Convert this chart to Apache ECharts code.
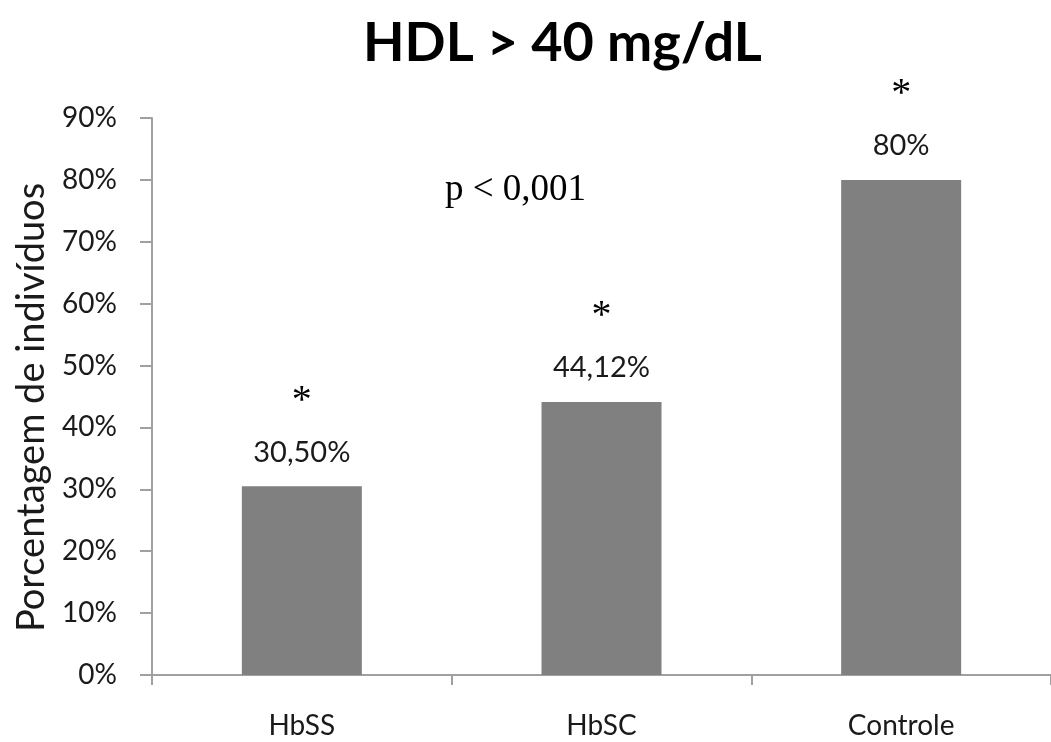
<!DOCTYPE html>
<html>
<head>
<meta charset="utf-8">
<script src="https://cdn.jsdelivr.net/npm/echarts@6/dist/echarts.min.js"></script>
<style>
  html, body { margin: 0; padding: 0; background: #fff; }
  #chart { width: 1051px; height: 742px; }
</style>
</head>
<body>
<div id="chart"></div>
<script>
const categories = ["HbSS", "HbSC", "Controle"];
const values = [30.5, 44.12, 80];
const valueLabels = ["30,50%", "44,12%", "80%"];
const yTicks = [0, 10, 20, 30, 40, 50, 60, 70, 80, 90];

const font = "Lato, 'Open Sans', sans-serif";

let chart = echarts.init(document.getElementById("chart"));

let option = {
  animation: false,
  title: {
    text: "HDL > 40 mg/dL",
    left: 358,
    top: 12,
    textStyle: {
      fontFamily: font,
      fontWeight: "bold",
      fontSize: 54,
      color: "#000"
    }
  },
  grid: {
    left: 152,
    right: -7,
    top: 118,
    bottom: 67
  },
  xAxis: {
    type: "category",
    data: categories,
    axisLine: { lineStyle: { color: "#a0a0a0", width: 2 } },
    axisTick: { show: true, length: 10, lineStyle: { color: "#a0a0a0", width: 2 } },
    axisLabel: {
      margin: 37,
      fontFamily: font,
      fontSize: 28,
      color: "#1a1a1a"
    }
  },
  yAxis: {
    type: "value",
    min: 0,
    max: 90,
    interval: 10,
    name: "Porcentagem de indivíduos",
    nameLocation: "middle",
    nameGap: 97,
    nameTextStyle: {
      fontFamily: font,
      fontSize: 38,
      color: "#1a1a1a",
      padding: [0, 22, 0, 0]
    },
    axisLine: { show: true, lineStyle: { color: "#a0a0a0", width: 2 } },
    axisTick: { show: true, length: 12, lineStyle: { color: "#a0a0a0", width: 2 } },
    splitLine: { show: false },
    axisLabel: {
      margin: 35,
      fontFamily: font,
      fontSize: 28,
      color: "#1a1a1a",
      formatter: function (v) {
        return yTicks.indexOf(v) >= 0 ? v + "%" : "";
      }
    }
  },
  graphic: [
    {
      type: "text",
      left: 445,
      top: 172,
      style: {
        text: "p < 0,001",
        fontFamily: "'Liberation Serif', 'DejaVu Serif', serif",
        fontSize: 37,
        fill: "#000"
      }
    }
  ],
  series: [
    {
      type: "bar",
      data: values,
      barWidth: 120,
      itemStyle: { color: "#808080" },
      label: {
        show: true,
        position: "top",
        distance: 17,
        formatter: function (p) {
          return "{a|*}\n{b|" + valueLabels[p.dataIndex] + "}";
        },
        rich: {
          a: {
            fontFamily: "'Liberation Serif', serif",
            fontSize: 40,
            lineHeight: 68,
            color: "#000"
          },
          b: {
            fontFamily: font,
            fontSize: 29,
            lineHeight: 34,
            color: "#1a1a1a"
          }
        }
      }
    }
  ]
};

chart.setOption(option);
</script>
</body>
</html>
